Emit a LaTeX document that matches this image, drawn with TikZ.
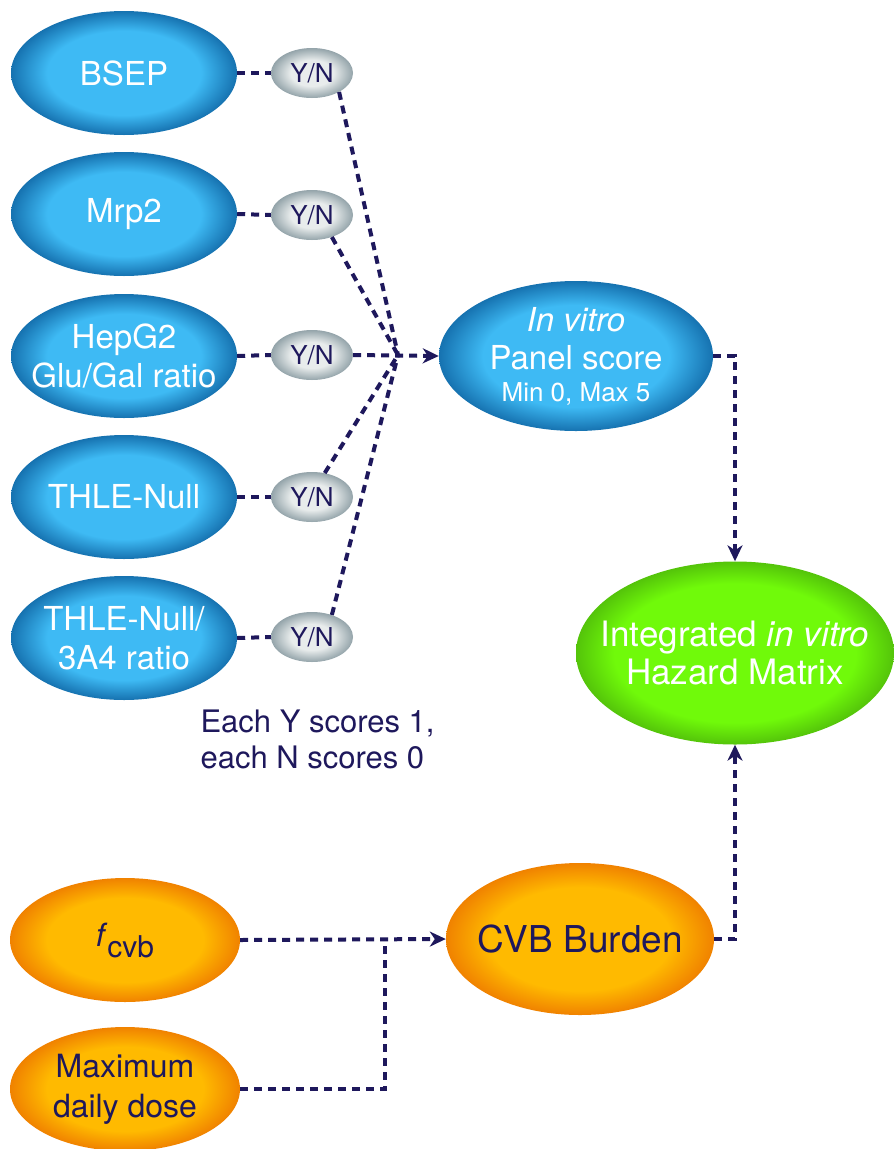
\documentclass[tikz,border=0pt]{standalone}
\usepackage{fontspec}
\setmainfont{TeX Gyre Heros}
\usetikzlibrary{shapes.geometric,arrows.meta,calc}
\definecolor{navy}{RGB}{30,24,92}
\definecolor{bluein}{RGB}{62,186,244}
\definecolor{blueout}{RGB}{22,114,176}
\definecolor{greyin}{RGB}{232,236,236}
\definecolor{greyout}{RGB}{148,164,170}
\definecolor{greenin}{RGB}{112,250,10}
\definecolor{greenout}{RGB}{84,196,10}
\definecolor{orangein}{RGB}{255,186,0}
\definecolor{orangeout}{RGB}{240,130,0}
\pgfdeclareradialshading{blueshade}{\pgfpoint{0bp}{0bp}}{color(0bp)=(bluein); color(17bp)=(bluein); color(25bp)=(blueout); color(50bp)=(blueout)}
\pgfdeclareradialshading{greyshade}{\pgfpoint{0bp}{0bp}}{color(0bp)=(greyin); color(13bp)=(greyin); color(25bp)=(greyout); color(50bp)=(greyout)}
\pgfdeclareradialshading{greenshade}{\pgfpoint{0bp}{0bp}}{color(0bp)=(greenin); color(19bp)=(greenin); color(25bp)=(greenout); color(50bp)=(greenout)}
\pgfdeclareradialshading{orangeshade}{\pgfpoint{0bp}{0bp}}{color(0bp)=(orangein); color(17bp)=(orangein); color(25bp)=(orangeout); color(50bp)=(orangeout)}
\tikzset{
  ell/.style={ellipse, inner sep=-30pt, align=center},
  bluenode/.style={ell, shading=blueshade, minimum width=226pt, minimum height=124pt, text=white, font=\fontsize{33}{39}\selectfont},
  ynnode/.style={ell, inner sep=-6pt, shading=greyshade, minimum width=82pt, minimum height=50pt, text=navy, font=\fontsize{26}{30}\selectfont},
  greennode/.style={ell, shading=greenshade, minimum width=318pt, minimum height=183pt, text=white, font=\fontsize{35}{38}\selectfont},
  orangenode/.style={ell, shading=orangeshade, minimum width=230pt, minimum height=124pt, text=navy, font=\fontsize{32}{40}\selectfont},
  conn/.style={draw=navy, line width=4pt, dash pattern=on 8pt off 6pt},
  arr/.style={-{Stealth[length=16pt,width=15pt,inset=5pt]}},
}
\begin{document}
\begin{tikzpicture}[x=1pt,y=-1pt]
\fill[white] (0,0) rectangle (894,1149);
\useasboundingbox (0,0) rectangle (894,1149);
% blue inputs
\node[bluenode] (bsep) at (124,73) {BSEP};
\node[bluenode] (mrp) at (124,214) {Mrp2};
\node[bluenode] (hep) at (124,356) {HepG2\\Glu/Gal ratio};
\node[bluenode] (thle) at (124,497) {THLE-Null};
\node[bluenode] (thlea) at (124,638) {THLE-Null/\\3A4 ratio};
% Y/N
\node[ynnode] (yn1) at (312,73) {Y/N};
\node[ynnode] (yn2) at (312,215) {Y/N};
\node[ynnode] (yn3) at (312,355) {Y/N};
\node[ynnode] (yn4) at (312,497) {Y/N};
\node[ynnode] (yn5) at (312,637) {Y/N};
% panel
\node[bluenode, minimum width=274pt, minimum height=150pt] (panel) at (576,356)
  {\textit{In vitro}\\[-1pt]Panel score\\[-7pt]{\fontsize{26}{30}\selectfont Min 0, Max 5}};
% green
\node[greennode] (hazard) at (735,653) {Integrated \textit{in vitro}\\Hazard Matrix};
% orange
\node[orangenode] (fcvb) at (125,940) {\textit{f}\raisebox{-11pt}{\fontsize{30}{34}\selectfont cvb}};
\node[orangenode] (maxd) at (125,1089) {Maximum\\daily dose};
\node[orangenode, minimum width=268pt, minimum height=152pt, font=\fontsize{37}{40}\selectfont] (cvb) at (580,939) {CVB Burden};
% note
\node[anchor=west, align=left, text=navy, font=\fontsize{31}{36}\selectfont] (note) at (197,739) {Each Y scores 1,\\each N scores 0};
% coordinates
\coordinate (conv) at (398,355);
\coordinate (junc) at (385,940);
% connectors
\foreach \a/\b in {bsep/yn1, mrp/yn2, hep/yn3, thle/yn4, thlea/yn5}
  \draw[conn] (\a.east) -- (\b.west);
\draw[conn] (yn1.-35) -- (conv);
\draw[conn] (yn2.-48) -- (conv);
\draw[conn] (yn4.62) -- (conv);
\draw[conn] (yn5.48) -- (conv);
\draw[conn, arr] (yn3.east) -- (panel.west);
\draw[conn, arr] (panel.east) -| (hazard.north);
\draw[conn, arr] (cvb.east) -| (hazard.south);
\draw[conn, arr] (fcvb.east) -- (cvb.west);
\draw[conn] (maxd.east) -| (junc);
\end{tikzpicture}
\end{document}
